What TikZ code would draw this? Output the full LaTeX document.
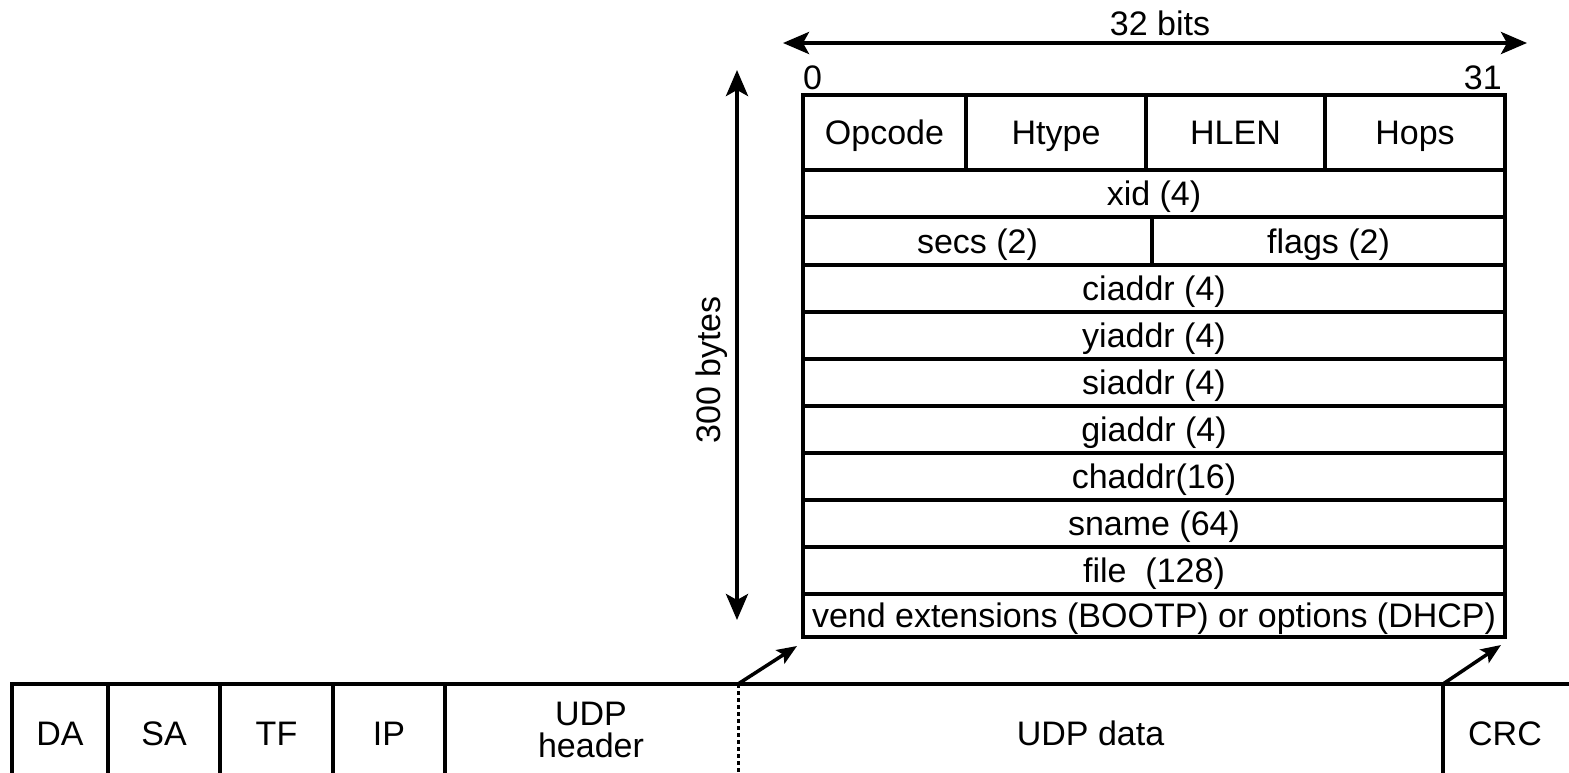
\documentclass[tikz,border=0pt]{standalone}
\usepackage{fontspec}
\setmainfont{Liberation Sans}
\usetikzlibrary{arrows.meta}
\begin{document}
\begin{tikzpicture}[x=1pt,y=-1pt,
  lbl/.style={font=\fontsize{34}{32}\selectfont},
  cell/.style={draw, line width=3.5pt, rectangle, inner sep=0pt, outer sep=0pt, anchor=north west, text height=24pt, text depth=0pt, lbl},
  bare/.style={rectangle, inner sep=0pt, outer sep=0pt, anchor=north west, text height=24pt, text depth=0pt, lbl},
  frame/.style={line width=3.5pt},
  bigarrow/.style={line width=4pt, {Stealth[length=26pt,width=22pt,inset=6pt]}-{Stealth[length=26pt,width=22pt,inset=6pt]}},
  smallarrow/.style={line width=3.5pt, -{Stealth[length=20pt,width=16pt,inset=4pt]}},
  dotline/.style={line width=3pt, dash pattern=on 4pt off 3pt}]
\useasboundingbox (0,0) rectangle (1569,772);
\clip (0,0) rectangle (1569,772);
% main packet box
\node[cell, minimum width=163, minimum height=75] (opcode) at (803,95) {Opcode};
\node[cell, minimum width=180, minimum height=75] (htype) at (966,95) {Htype};
\node[cell, minimum width=179, minimum height=75] (hlen) at (1146,95) {HLEN};
\node[cell, minimum width=180, minimum height=75] (hops) at (1325,95) {Hops};
\node[cell, minimum width=702, minimum height=47] (xid) at (803,170) {xid (4)};
\node[cell, minimum width=349, minimum height=48] (secs) at (803,217) {secs (2)};
\node[cell, minimum width=353, minimum height=48] (flags) at (1152,217) {flags (2)};
\node[cell, minimum width=702, minimum height=47] (ciaddr) at (803,265) {ciaddr (4)};
\node[cell, minimum width=702, minimum height=47] (yiaddr) at (803,312) {yiaddr (4)};
\node[cell, minimum width=702, minimum height=47] (siaddr) at (803,359) {siaddr (4)};
\node[cell, minimum width=702, minimum height=47] (giaddr) at (803,406) {giaddr (4)};
\node[cell, minimum width=702, minimum height=47] (chaddr) at (803,453) {chaddr(16)};
\node[cell, minimum width=702, minimum height=47] (sname) at (803,500) {sname (64)};
\node[cell, minimum width=702, minimum height=47] (file) at (803,547) {file\ \ (128)};
\node[cell, minimum width=702, minimum height=43] (vend) at (803,594) {vend extensions (BOOTP) or options (DHCP)};
% bit labels
\node[lbl, anchor=base west, inner sep=0pt] (zero) at (803,89) {0};
\node[lbl, anchor=base east, inner sep=0pt] (thirtyone) at (1502,89) {31};
\node[lbl, anchor=base, inner sep=0pt] (bits) at (1160,35) {32 bits};
\coordinate (bl) at (783,43);
\coordinate (br) at (1527,43);
\draw[bigarrow] (bl) -- (br);
\coordinate (vt) at (737,70);
\coordinate (vb) at (737,620);
\draw[bigarrow] (vt) -- (vb);
\node[lbl, rotate=90, inner sep=0pt] (bytes) at (712,370) {300 bytes};
% frame row
\node[cell, minimum width=96, minimum height=98] (da) at (12,684) {DA};
\node[cell, minimum width=112, minimum height=98] (sa) at (108,684) {SA};
\node[cell, minimum width=113, minimum height=98] (tf) at (220,684) {TF};
\node[cell, minimum width=112, minimum height=98] (ip) at (333,684) {IP};
\node[lbl, inner sep=0pt, align=center, anchor=base] (hdr) at (591,757) {UDP\\header};
\node[bare, minimum width=705, minimum height=98] (data) at (738,684) {UDP data};
\node[bare, minimum width=124, minimum height=98] (crc) at (1443,684) {CRC};
\draw[frame] (ip.north east) -- ([xshift=6pt]crc.north east);
\draw[frame] (crc.north west) -- (crc.south west);
\draw[dotline] (data.north west) -- (data.south west);
\coordinate (a1) at (797,646);
\coordinate (a2) at (1501,645);
\draw[smallarrow] (data.north west) -- (a1);
\draw[smallarrow] (crc.north west) -- (a2);
\end{tikzpicture}
\end{document}
